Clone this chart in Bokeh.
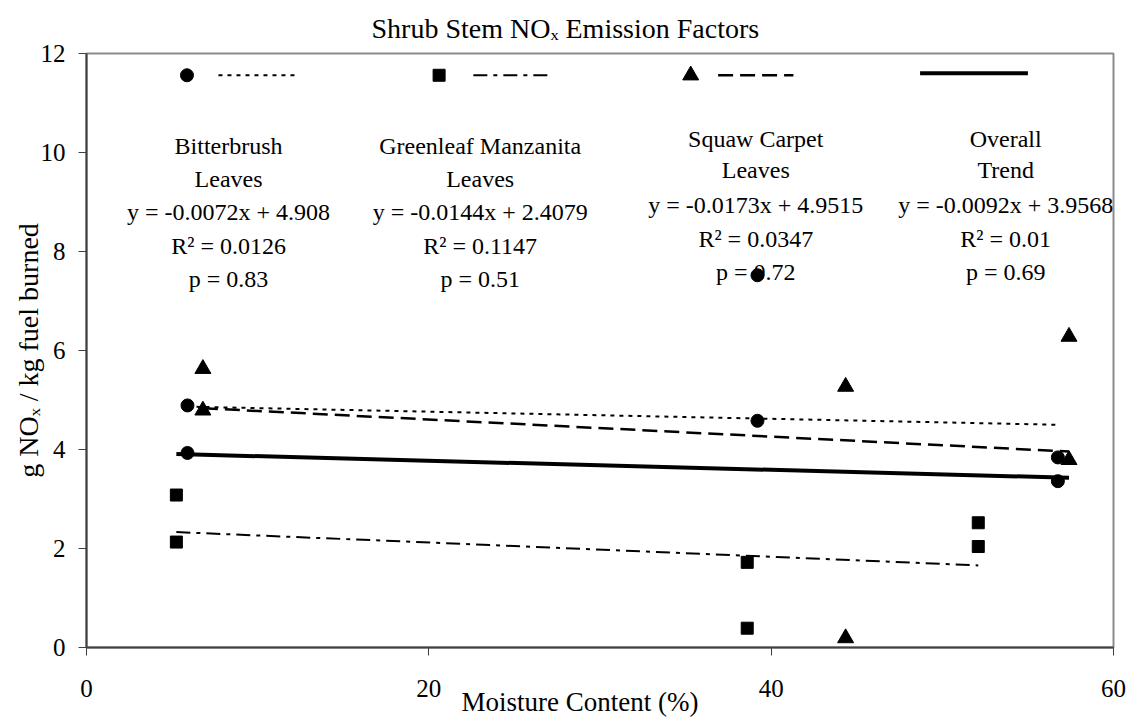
import numpy as np
from bokeh.plotting import figure
from bokeh.models import Label, Range1d, FixedTicker, Title
from bokeh.embed import file_html
from bokeh.resources import INLINE

# ---------------- data ----------------
bitter_x = [5.9, 5.9, 39.2, 39.2, 56.75, 56.75]
bitter_y = [4.89, 3.93, 7.52, 4.58, 3.84, 3.36]
green_x = [5.25, 5.25, 38.6, 38.6, 52.1, 52.1]
green_y = [3.08, 2.13, 1.72, 0.39, 2.52, 2.04]
squaw_x = [6.8, 6.8, 44.35, 44.35, 57.4, 57.4]
squaw_y = [5.63, 4.79, 5.27, 0.19, 6.28, 3.79]

series_names = [["Bitterbrush", "Leaves"], ["Greenleaf Manzanita", "Leaves"],
                ["Squaw Carpet", "Leaves"], ["Overall", "Trend"]]
slopes = [-0.0072, -0.0144, -0.0173, -0.0092]
intercepts = [4.908, 2.4079, 4.9515, 3.9568]
r_squared = [0.0126, 0.1147, 0.0347, 0.01]
p_values = [0.83, 0.51, 0.72, 0.69]

x_ticks = [0, 20, 40, 60]
y_ticks = [0, 2, 4, 6, 8, 10, 12]

title_text = "Shrub Stem NO\u2093 Emission Factors"
ylabel_text = "g NO\u2093 / kg fuel burned"
xlabel_text = "Moisture Content (%)"

# ---------------- layout positions (not data) ----------------
legend_marker_x = [5.87, 20.6, 35.3]
legend_row_y = 11.56
legend_line_x0 = [7.71, 22.6, 36.9, 48.7]
legend_line_x1 = [12.21, 27.0, 41.3, 55.0]
legend_col_x = [8.3, 23.0, 39.1, 53.7]
legend_rows_y = [[10.14, 9.47, 8.79, 8.12, 7.45], [10.14, 9.47, 8.79, 8.12, 7.45],
                 [10.28, 9.64, 8.93, 8.26, 7.58], [10.28, 9.64, 8.93, 8.26, 7.58]]

FONT = "Liberation Serif"

p = figure(width=1128, height=719, x_range=Range1d(0, 60), y_range=Range1d(0, 12),
           output_backend="svg", toolbar_location=None,
           min_border_left=86, min_border_right=15, min_border_top=53, min_border_bottom=72)
p.xgrid.visible = False
p.ygrid.visible = False
p.outline_line_color = "#8c8c8c"
p.outline_line_width = 2
p.background_fill_color = "white"
p.border_fill_color = "white"

# title
p.title.text = title_text
p.title.align = "left"
p.title.offset = 285
p.title.text_font = FONT
p.title.text_font_size = "28px"
p.title.text_font_style = "normal"
p.title.text_color = "black"
p.title.standoff = 20

for ax in (p.xaxis, p.yaxis):
    ax.axis_line_color = "#404040"
    ax.axis_line_width = 2
    ax.major_tick_line_color = "#404040"
    ax.major_tick_line_width = 1
    ax.major_tick_in = 0
    ax.major_tick_out = 8
    ax.minor_tick_line_color = None
    ax.major_label_text_font = FONT
    ax.major_label_text_font_size = "25px"
    ax.major_label_text_color = "black"
p.xaxis.ticker = FixedTicker(ticks=x_ticks)
p.yaxis.ticker = FixedTicker(ticks=y_ticks)
p.xaxis.major_label_standoff = 24
p.yaxis.major_label_standoff = 13

# axis titles as side-panel titles
p.add_layout(Title(text=xlabel_text, align="left", offset=375, standoff=-29,
                   text_font=FONT, text_font_size="27px", text_font_style="normal",
                   text_color="black"), "below")
p.add_layout(Title(text=ylabel_text, align="center", standoff=-12,
                   text_font=FONT, text_font_size="28px", text_font_style="normal",
                   text_color="black"), "left")

# ---------------- trend lines ----------------
styles = [dict(line_dash="4 5", line_width=2),
          dict(line_dash="14 6 4 6", line_width=2),
          dict(line_dash="15 7", line_width=2.5),
          dict(line_dash="solid", line_width=4)]
all_x = bitter_x + green_x + squaw_x
for k, xs in enumerate([bitter_x, green_x, squaw_x, all_x]):
    xx = np.array([min(xs), max(xs)])
    yy = slopes[k] * xx + intercepts[k]
    p.line(xx, yy, line_color="black", **styles[k])

# ---------------- points ----------------
p.scatter(bitter_x, bitter_y, marker="circle", size=13, color="black")
p.scatter(green_x, green_y, marker="square", size=12, color="black")
p.scatter(squaw_x, squaw_y, marker="triangle", size=16, color="black")

# ---------------- legend row ----------------
markers = ["circle", "square", "triangle"]
msizes = [13, 12, 16]
for k in range(3):
    p.scatter([legend_marker_x[k]], [legend_row_y], marker=markers[k], size=msizes[k], color="black")
for k in range(4):
    ly = legend_row_y + (0.04 if k == 3 else 0.0)
    p.line([legend_line_x0[k], legend_line_x1[k]], [ly, ly], line_color="black", **styles[k])

# ---------------- legend texts ----------------
for k in range(4):
    lines = [series_names[k][0], series_names[k][1],
             f"y = {slopes[k]}x + {intercepts[k]}",
             f"R\u00b2 = {r_squared[k]}",
             f"p = {p_values[k]}"]
    for j, t in enumerate(lines):
        p.add_layout(Label(x=legend_col_x[k], y=legend_rows_y[k][j], text=t,
                           text_align="center", text_baseline="middle",
                           text_font=FONT, text_font_size="24px", text_color="black"))

open("out.html", "w").write(file_html(p, INLINE))
